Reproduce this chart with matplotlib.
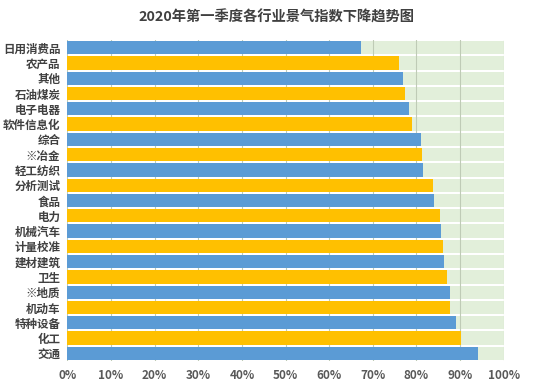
import matplotlib
matplotlib.use('Agg')
from matplotlib import pyplot as plt
from matplotlib.ticker import FuncFormatter
import numpy as np

plt.rcParams['font.family'] = ['Noto Sans CJK SC', 'DejaVu Sans']

# industries, top to bottom
categories = ['日用消费品', '农产品', '其他', '石油煤炭', '电子电器', '软件信息化', '综合',
              '※冶金', '轻工纺织', '分析测试', '食品', '电力', '机械汽车', '计量校准',
              '建材建筑', '卫生', '※地质', '机动车', '特种设备', '化工', '交通']
# share (%) of firms reporting a drop in business climate index
values = [67.3, 76.0, 76.9, 77.4, 78.2, 78.9, 81.1, 81.3, 81.4, 83.8, 83.9,
          85.5, 85.6, 86.1, 86.2, 87.0, 87.6, 87.6, 89.0, 90.1, 94.2]
full = [100] * len(categories)
x_ticks = [0, 10, 20, 30, 40, 50, 60, 70, 80, 90, 100]

blue = '#5B9BD5'
yellow = '#FFC000'
colors = [blue if i % 2 == 0 else yellow for i in range(len(categories))]

fig = plt.figure(figsize=(5.53, 3.81), dpi=100)
ax = fig.add_axes([0.1217, 0.0525, 0.7893, 0.8425])

pos = np.arange(len(categories))
ax.barh(pos, full, height=0.87, color='#E2EFDA', zorder=1)
ax.barh(pos, values, height=0.87, color=colors, zorder=3)

ax.set_xlim(0, 100)
ax.set_ylim(len(categories) - 0.5, -0.5)
ax.set_xticks(x_ticks)
ax.xaxis.set_major_formatter(FuncFormatter(lambda v, p: '%d%%' % v))
ax.set_yticks(pos)
ax.set_yticklabels(categories)
ax.xaxis.grid(True, color='#BFCBB6', linewidth=0.8, zorder=2)
ax.set_axisbelow(False)
for s in ax.spines.values():
    s.set_visible(False)
ax.tick_params(axis='both', length=0)
ax.tick_params(axis='x', pad=6, labelsize=8.5, labelcolor='#595959')
ax.tick_params(axis='y', pad=5, labelsize=8.3, labelcolor='#404040')
for t in ax.get_xticklabels() + ax.get_yticklabels():
    t.set_fontweight('bold')

fig.text(0.5, 0.955, '2020年第一季度各行业景气指数下降趋势图', ha='center', va='center',
         fontsize=10.3, fontweight='bold', color='#404040')

fig.savefig('out.png', dpi=100)
